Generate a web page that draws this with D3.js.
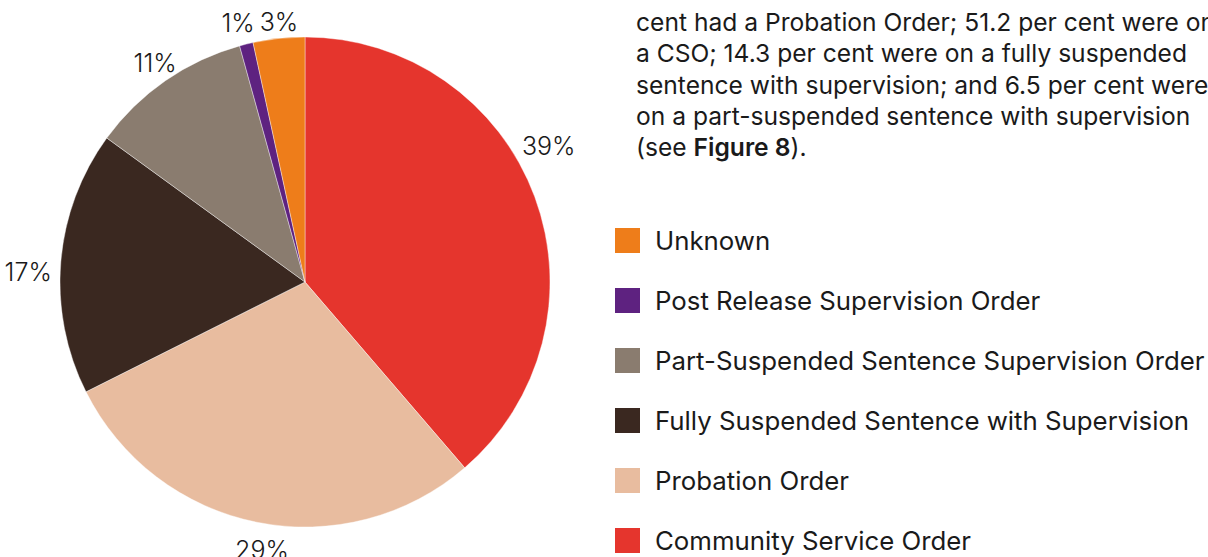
<!DOCTYPE html>
<html>
<head>
<meta charset="utf-8">
<script src="https://cdn.jsdelivr.net/npm/d3@7"></script>
<style>
  html, body { margin: 0; padding: 0; background: #ffffff; }
  svg { display: block; font-family: Inter, "Noto Sans", sans-serif; }
</style>
</head>
<body>
<svg id="chart" width="1208" height="557"></svg>
<script>
// Supervised order types (share of people, per cent), drawn clockwise from 12 o'clock
const categories = [
  "Community Service Order",
  "Probation Order",
  "Fully Suspended Sentence with Supervision",
  "Part-Suspended Sentence Supervision Order",
  "Post Release Supervision Order",
  "Unknown"
];
const shares = [38.7, 28.9, 17.4, 10.7, 0.9, 3.4];
const colours = ["#e5352d", "#e8bc9f", "#3a2820", "#8a7c6f", "#5e2280", "#ee7d1a"];

// Legend lists the categories from last to first
const legendOrder = [5, 4, 3, 2, 1, 0];

// Commentary beside the chart
const noteLines = [
  [{ t: "cent had a Probation Order; 51.2 per cent were on" }],
  [{ t: "a CSO; 14.3 per cent were on a fully suspended" }],
  [{ t: "sentence with supervision; and 6.5 per cent were" }],
  [{ t: "on a part-suspended sentence with supervision" }],
  [{ t: "(see " }, { t: "Figure 8", b: true }, { t: ")." }]
];

const svg = d3.select("#chart");
const cx = 305, cy = 282, radius = 245;

const data = categories.map((c, i) => ({ name: c, value: shares[i], colour: colours[i] }));

const pie = d3.pie().value(d => d.value).sort(null);
const arcs = pie(data);
const arc = d3.arc().innerRadius(0).outerRadius(radius);

const g = svg.append("g").attr("transform", `translate(${cx},${cy})`);

g.selectAll("path.slice")
  .data(arcs)
  .join("path")
  .attr("class", "slice")
  .attr("d", arc)
  .attr("fill", d => d.data.colour)
  .attr("stroke", "#ffffff")
  .attr("stroke-width", 0.4);

// Percentage labels outside the rim, placed around each slice's mid-angle
// with small per-label adjustments (degrees, pixels) so they clear each other
const labelRadius = 270;
const labelAdjust = {
  "Community Service Order": [-8.8, 9],
  "Probation Order": [-2.2, 1],
  "Fully Suspended Sentence with Supervision": [-2.7, 7],
  "Part-Suspended Sentence Supervision Order": [0.3, -5],
  "Post Release Supervision Order": [-0.6, -2],
  "Unknown": [0.4, -9]
};
const rad = Math.PI / 180;
const labelAngle = d => (d.startAngle + d.endAngle) / 2 + (labelAdjust[d.data.name] || [0, 0])[0] * rad;
const labelDist = d => labelRadius + (labelAdjust[d.data.name] || [0, 0])[1];
g.selectAll("text.pct")
  .data(arcs)
  .join("text")
  .attr("class", "pct")
  .attr("x", d => Math.sin(labelAngle(d)) * labelDist(d))
  .attr("y", d => -Math.cos(labelAngle(d)) * labelDist(d))
  .attr("text-anchor", "middle")
  .attr("dominant-baseline", "central")
  .attr("font-size", 25)
  .attr("font-weight", 300)
  .attr("fill", "#1a1a1a")
  .text(d => Math.round(d.data.value) + "%");

// Legend
const legendX = 615, legendY = 228, legendStep = 60, swatch = 25;
const legend = svg.append("g");
const rows = legend.selectAll("g.row")
  .data(legendOrder.map(i => data[i]))
  .join("g")
  .attr("class", "row")
  .attr("transform", (d, i) => `translate(${legendX},${legendY + i * legendStep})`);

rows.append("rect")
  .attr("width", swatch)
  .attr("height", swatch)
  .attr("fill", d => d.colour);

rows.append("text")
  .attr("x", 40)
  .attr("y", swatch / 2)
  .attr("dominant-baseline", "central")
  .attr("font-size", 25.8)
  .attr("fill", "#1a1a1a")
  .text(d => d.name);

// Commentary text
const note = svg.append("text")
  .attr("x", 636)
  .attr("font-size", 24.6)
  .attr("fill", "#1a1a1a");
noteLines.forEach((line, i) => {
  line.forEach((part, j) => {
    const ts = note.append("tspan").text(part.t);
    if (j === 0) ts.attr("x", 636).attr("y", 31 + i * 31.3);
    if (part.b) ts.attr("font-weight", 600);
  });
});
</script>
</body>
</html>
